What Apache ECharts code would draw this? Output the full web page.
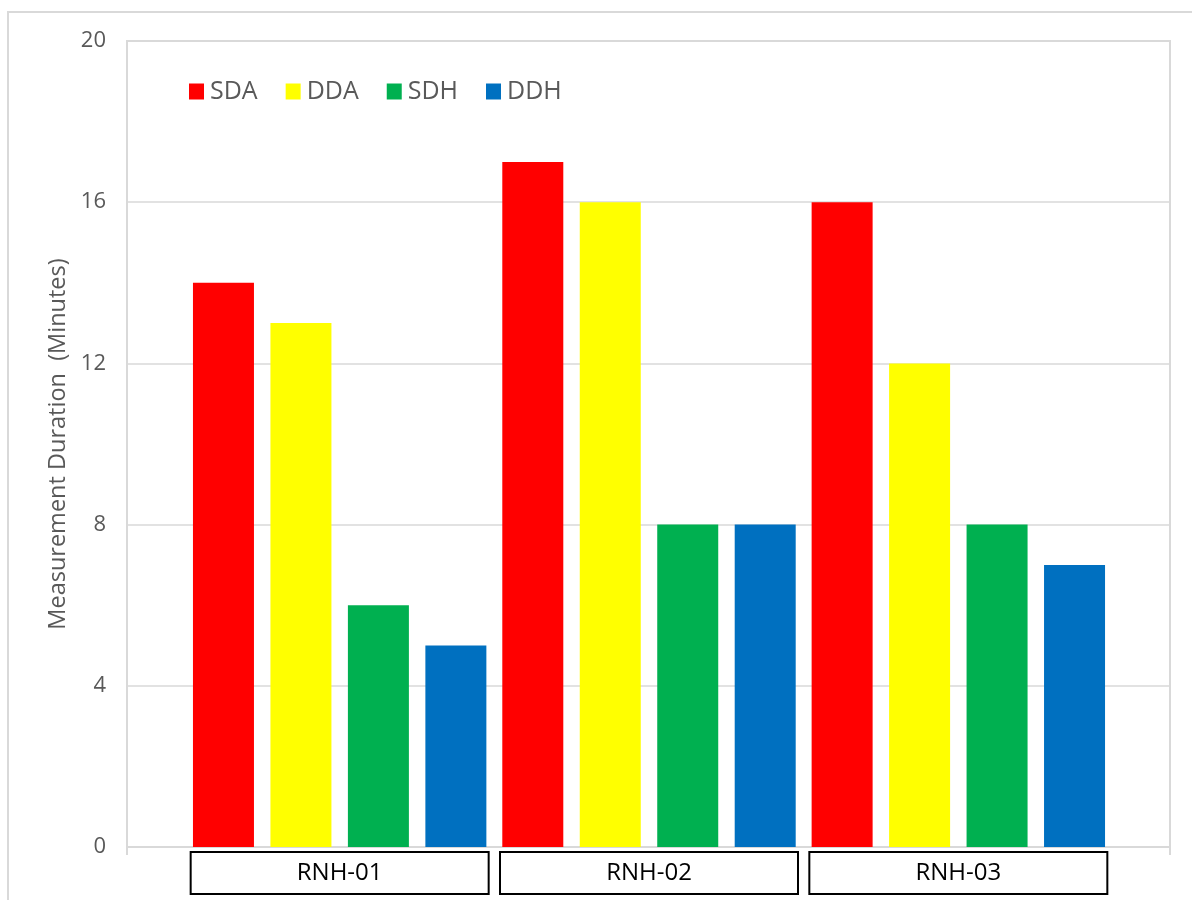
<!DOCTYPE html>
<html>
<head>
<meta charset="utf-8">
<script src="https://cdn.jsdelivr.net/npm/echarts@6/dist/echarts.min.js"></script>
<style>
  html, body { margin: 0; padding: 0; background: #fff; }
  #chart { width: 1192px; height: 900px; }
</style>
</head>
<body>
<div id="chart"></div>
<script>
const categories = ['RNH-01', 'RNH-02', 'RNH-03']
const seriesNames = ['SDA', 'DDA', 'SDH', 'DDH']
const sdaValues = [14, 17, 16]
const ddaValues = [13, 16, 12]
const sdhValues = [6, 8, 8]
const ddhValues = [5, 8, 7]
const yMin = 0
const yMax = 20
const yStep = 4

const colors = ['#FF0000', '#FFFF00', '#00B050', '#0070C0']
const gridColor = '#d9d9d9'
const font = 'Open Sans'

const chart = echarts.init(document.getElementById('chart'))

const makeBar = (name, values, i) => ({
  name,
  type: 'bar',
  xAxisIndex: 1,
  yAxisIndex: 1,
  data: values,
  barWidth: 61,
  barGap: '27%',
  itemStyle: { color: colors[i] }
})

const option = {
  animation: false,
  color: colors,
  graphic: [
    {
      type: 'rect',
      silent: true,
      z: -10,
      shape: { x: 8, y: 12, width: 1300, height: 1000 },
      style: { fill: 'none', stroke: gridColor, lineWidth: 2 }
    }
  ],
  legend: {
    data: seriesNames,
    left: 189,
    top: 79,
    padding: 0,
    icon: 'rect',
    itemWidth: 15,
    itemHeight: 16,
    itemGap: 28,
    textStyle: { fontSize: 25, color: '#595959', fontFamily: font, padding: [0, 0, 0, 1] }
  },
  grid: [
    { left: 127, right: 22, top: 41, bottom: 53, show: true, borderColor: gridColor, borderWidth: 2 },
    { left: 185, right: 79, top: 41, bottom: 53 }
  ],
  xAxis: [
    {
      gridIndex: 0,
      type: 'category',
      data: [''],
      axisLine: { lineStyle: { color: gridColor, width: 2 } },
      axisTick: { show: true, length: 8, lineStyle: { color: gridColor, width: 2 } },
      axisLabel: { show: false }
    },
    {
      gridIndex: 1,
      type: 'category',
      data: categories,
      axisLine: { show: false },
      axisTick: { show: false },
      axisLabel: {
        margin: 5,
        fontSize: 24,
        fontFamily: font,
        color: '#000',
        width: 298,
        height: 42,
        lineHeight: 42,
        align: 'center',
        borderColor: '#000',
        borderWidth: 2
      }
    }
  ],
  yAxis: [
    {
      gridIndex: 0,
      type: 'value',
      min: yMin,
      max: yMax,
      interval: yStep,
      name: 'Measurement Duration  (Minutes)',
      nameLocation: 'middle',
      nameGap: 55,
      nameTextStyle: { fontSize: 23.5, color: '#595959', fontFamily: font },
      axisLine: { show: true, lineStyle: { color: gridColor, width: 2 } },
      axisTick: { show: false },
      axisLabel: { fontSize: 22, color: '#595959', fontFamily: font, margin: 21 },
      splitLine: { lineStyle: { color: gridColor, width: 1.5 } }
    },
    {
      gridIndex: 1,
      type: 'value',
      min: yMin,
      max: yMax,
      show: false
    }
  ],
  series: [
    makeBar(seriesNames[0], sdaValues, 0),
    makeBar(seriesNames[1], ddaValues, 1),
    makeBar(seriesNames[2], sdhValues, 2),
    makeBar(seriesNames[3], ddhValues, 3)
  ]
}

chart.setOption(option)
</script>
</body>
</html>
